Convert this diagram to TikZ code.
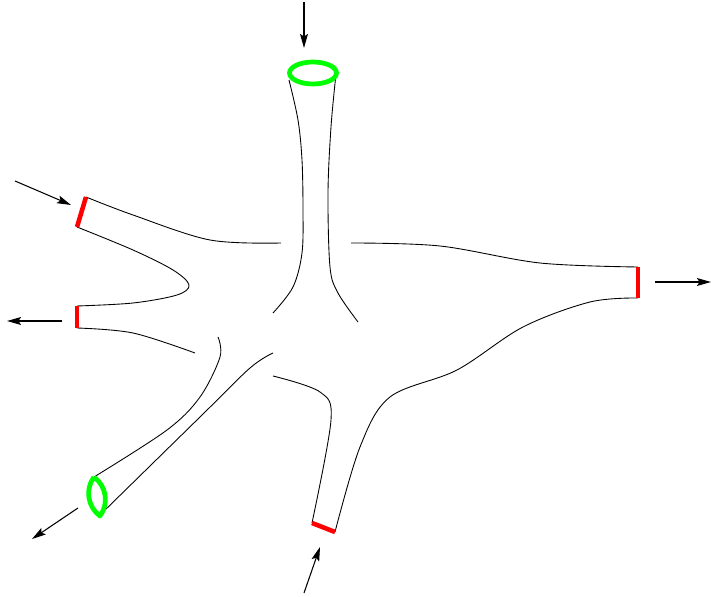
\documentclass[tikz,border=0pt]{standalone}
\usetikzlibrary{arrows.meta}
\begin{document}
\begin{tikzpicture}[x=0.02cm,y=-0.02cm,
 wall/.style={line width=0.5pt,smooth,tension=0.55},
 redcap/.style={red,line width=2.6pt},
 greencap/.style={green,line width=2.7pt,line join=round},
 flow/.style={line width=0.6pt,-{Stealth[length=8pt,width=4.5pt,inset=1.5pt]}}]
\useasboundingbox (0,0) rectangle (711,597);
% arrows
\coordinate (T1) at (304,2);\coordinate (T2) at (304,48);
\coordinate (L1) at (15,181);\coordinate (L2) at (71,205);
\coordinate (M1) at (62,321);\coordinate (M2) at (7,321);
\coordinate (R1) at (655,282);\coordinate (R2) at (711,282);
\coordinate (D1) at (78,508);\coordinate (D2) at (32,539);
\coordinate (B1) at (304,593);\coordinate (B2) at (320,547);
\draw[flow] (T1)--(T2);
\draw[flow] (L1)--(L2);
\draw[flow] (M1)--(M2);
\draw[flow] (R1)--(R2);
\draw[flow] (D1)--(D2);
\draw[flow] (B1)--(B2);
% top tube
\draw[wall] plot coordinates{(289,80) (298,120) (302,160) (303,210) (302,253) (293,287) (273,313)};
\draw[wall] plot coordinates{(336,74) (331,127) (328,193) (330,267) (338,293) (358,322)};
\draw[greencap] (313,73) ellipse[x radius=23.5,y radius=11];
% upper left arm
\draw[wall] plot coordinates{(86,197) (133,215) (210,240) (281,243)};
\draw[wall] plot coordinates{(77,227) (133,250) (173,270) (189,285) (177,295) (133,303) (77,306)};
\draw[wall] plot coordinates{(77,328) (133,333) (195,353)};
\draw[redcap] (86,197)--(77,227);
\draw[redcap] (77,306)--(77,328);
% right arm
\draw[wall] plot coordinates{(351,243) (440,246) (540,263) (638,267)};
\draw[wall] plot coordinates{(638,298) (590,302) (523,327) (457,370) (390,397) (360,447) (335,532)};
\draw[redcap] (638,267)--(638,298);
% bottom arm
\draw[wall] plot coordinates{(273,376) (320,392) (331,420) (312,523)};
\draw[redcap] (312,523)--(335,532);
% lower left arm
\draw[wall] plot coordinates{(218,337) (220,357) (200,397) (167,430) (94,477)};
\draw[wall] plot coordinates{(273,353) (250,368) (200,417) (101,514)};
\draw[greencap] (94,477) to[bend left=45] (100,516) to[bend left=45] (94,477);
\end{tikzpicture}
\end{document}
